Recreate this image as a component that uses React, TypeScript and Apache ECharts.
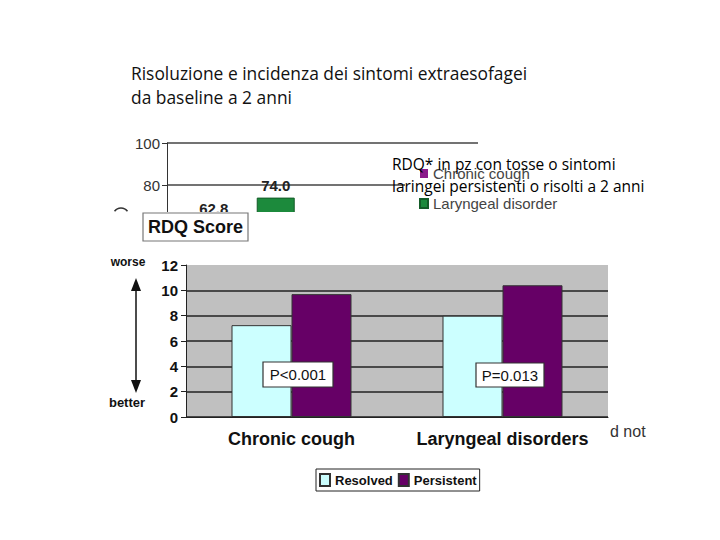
import React, { useEffect, useRef } from 'react';
import * as echarts from 'echarts';

// upper (clipped) chart: RDQ score
const rdqCategories = ['Baseline', '2 anni'];
const rdqChronicCough = [62.8, null];
const rdqLaryngeal = [74.0, null];

// lower chart: RDQ in persistent vs resolved patients
const symptomCategories = ['Chronic cough', 'Laryngeal disorders'];
const resolvedValues = [7.25, 8.0];
const persistentValues = [9.7, 10.4];
const pLabels = ['P<0.001', 'P=0.013'];

const titleLines = [
    'Risoluzione e incidenza dei sintomi extraesofagei',
    'da baseline a 2 anni',
];
const noteLines = [
    'RDQ* in pz con tosse o sintomi',
    'laringei persistenti o risolti a 2 anni',
];

const ARIAL = '"Liberation Sans", Arial, sans-serif';
const CALIBRI = '"Open Sans", "Noto Sans", sans-serif';

const App: React.FC = () => {
    const chartRef = useRef<HTMLDivElement>(null);

    useEffect(() => {
        document.body.style.margin = '0';
        if (!chartRef.current) return;
        const chart = echarts.init(chartRef.current, undefined, { renderer: 'svg' });

        // boxed annotation, as two flat graphic elements
        const boxedText = (x: number, y: number, w: number, h: number, text: string, font: string, stroke: string, z: number) => [
            {
                type: 'rect', z,
                shape: { x, y, width: w, height: h },
                style: { fill: '#fff', stroke, lineWidth: 1.2 },
            },
            {
                type: 'text', z: z + 1,
                x: x + w / 2,
                y: y + h / 2,
                style: { text, font, fill: '#111', align: 'center', verticalAlign: 'middle' },
            },
        ];

        const barLabel = {
            show: true,
            position: 'top' as const,
            fontFamily: ARIAL,
            fontSize: 15,
            fontWeight: 'bold' as const,
            color: '#222',
            formatter: (p: any) => Number(p.value).toFixed(1),
        };

        const option: echarts.EChartsOption = {
            animation: false,
            backgroundColor: '#fff',
            grid: [
                { left: 167, top: 143, width: 311, height: 84 },
                {
                    left: 186, top: 265, width: 422, height: 152,
                    show: true, backgroundColor: '#c0c0c0', borderWidth: 0,
                },
            ],
            xAxis: [
                {
                    gridIndex: 0,
                    type: 'category',
                    data: rdqCategories,
                    axisLine: { lineStyle: { color: '#333' } },
                    axisTick: { show: false },
                    axisLabel: { show: false },
                },
                {
                    gridIndex: 1,
                    type: 'category',
                    data: symptomCategories,
                    axisLine: { lineStyle: { color: '#222', width: 1 } },
                    axisTick: { length: 6, lineStyle: { color: '#222' } },
                    axisLabel: {
                        interval: 0,
                        margin: 13,
                        fontFamily: ARIAL,
                        fontSize: 18,
                        fontWeight: 'bold',
                        color: '#111',
                    },
                },
            ],
            yAxis: [
                {
                    gridIndex: 0,
                    type: 'value',
                    min: 60,
                    max: 100,
                    interval: 20,
                    axisLine: { show: true, lineStyle: { color: '#333' } },
                    axisTick: { show: true, length: 5, lineStyle: { color: '#333' } },
                    axisLabel: { margin: 7, fontFamily: ARIAL, fontSize: 15, color: '#333' },
                    splitLine: { lineStyle: { color: '#444', width: 1.5 } },
                },
                {
                    gridIndex: 1,
                    type: 'value',
                    min: 0,
                    max: 12,
                    interval: 2,
                    axisLine: { show: true, lineStyle: { color: '#222' } },
                    axisTick: { show: true, length: 5, lineStyle: { color: '#222' } },
                    axisLabel: { margin: 8, fontFamily: ARIAL, fontSize: 15, fontWeight: 'bold', color: '#111' },
                    splitLine: { showMaxLine: false, lineStyle: { color: '#222', width: 1.5 } },
                },
            ],
            legend: [
                {
                    data: ['Chronic cough', 'Laryngeal disorder'],
                    orient: 'vertical',
                    left: 405,
                    top: 158,
                    icon: 'rect',
                    itemWidth: 8,
                    itemHeight: 9,
                    itemGap: 15,
                    padding: [8, 40, 4, 14],
                    backgroundColor: '#fff',
                    textStyle: { fontFamily: ARIAL, fontSize: 15, color: '#444' },
                },
                {
                    data: ['Resolved', 'Persistent'],
                    left: 316,
                    top: 469,
                    icon: 'rect',
                    itemWidth: 10,
                    itemHeight: 12,
                    itemGap: 5,
                    padding: [4, 3, 4, 3],
                    borderColor: '#222',
                    borderWidth: 1,
                    textStyle: { fontFamily: ARIAL, fontSize: 13, fontWeight: 'bold', color: '#111' },
                },
            ],
            series: [
                {
                    name: 'Chronic cough',
                    type: 'bar',
                    xAxisIndex: 0,
                    yAxisIndex: 0,
                    data: rdqChronicCough,
                    barWidth: 38,
                    barGap: '63%',
                    itemStyle: { color: '#8b1a8b' },
                    label: barLabel,
                },
                {
                    name: 'Laryngeal disorder',
                    type: 'bar',
                    xAxisIndex: 0,
                    yAxisIndex: 0,
                    data: rdqLaryngeal,
                    barWidth: 38,
                    itemStyle: { color: '#1c8a3c', borderColor: '#145c28', borderWidth: 1 },
                    label: barLabel,
                },
                {
                    name: 'Resolved',
                    type: 'bar',
                    xAxisIndex: 1,
                    yAxisIndex: 1,
                    data: resolvedValues,
                    barWidth: 60,
                    barGap: 0,
                    itemStyle: { color: '#ccffff', borderColor: '#333', borderWidth: 1 },
                },
                {
                    name: 'Persistent',
                    type: 'bar',
                    xAxisIndex: 1,
                    yAxisIndex: 1,
                    data: persistentValues,
                    barWidth: 60,
                    itemStyle: { color: '#660066', borderColor: '#333', borderWidth: 1 },
                },
            ],
            graphic: [
                // white patch hiding the lower part of the top chart
                { type: 'rect', z: 3, shape: { x: 100, y: 212, width: 385, height: 42 }, style: { fill: '#fff' } },
                {
                    type: 'text', z: 10, x: 131, y: 73,
                    style: { text: titleLines[0], font: `17.4px ${CALIBRI}`, fill: '#111', verticalAlign: 'middle' },
                },
                {
                    type: 'text', z: 10, x: 131, y: 97,
                    style: { text: titleLines[1], font: `17.4px ${CALIBRI}`, fill: '#111', verticalAlign: 'middle' },
                },
                {
                    type: 'arc', z: 4,
                    shape: { cx: 121, cy: 216, r: 8, startAngle: Math.PI * 1.2, endAngle: Math.PI * 1.8 },
                    style: { stroke: '#333', lineWidth: 1.5, fill: 'none' },
                },
                ...boxedText(143, 213, 105, 28, 'RDQ Score', `bold 18px ${ARIAL}`, '#777', 6),
                {
                    type: 'text', z: 12, x: 392, y: 164,
                    style: { text: noteLines[0], font: `15.5px ${CALIBRI}`, fill: '#000', verticalAlign: 'middle' },
                },
                {
                    type: 'text', z: 12, x: 392, y: 186,
                    style: { text: noteLines[1], font: `15.5px ${CALIBRI}`, fill: '#000', verticalAlign: 'middle' },
                },
                {
                    type: 'text', z: 10, x: 128, y: 262,
                    style: { text: 'worse', font: `bold 12px ${ARIAL}`, fill: '#111', align: 'center', verticalAlign: 'middle' },
                },
                {
                    type: 'text', z: 10, x: 127, y: 402,
                    style: { text: 'better', font: `bold 13px ${ARIAL}`, fill: '#111', align: 'center', verticalAlign: 'middle' },
                },
                { type: 'line', z: 10, shape: { x1: 136, y1: 286, x2: 136, y2: 386 }, style: { stroke: '#111', lineWidth: 1.5 } },
                { type: 'polygon', z: 10, shape: { points: [[136, 278], [131, 291], [141, 291]] }, style: { fill: '#111' } },
                { type: 'polygon', z: 10, shape: { points: [[136, 393], [131, 380], [141, 380]] }, style: { fill: '#111' } },
                ...boxedText(263, 362, 70, 25, pLabels[0], `15px ${ARIAL}`, '#333', 20),
                ...boxedText(476, 363, 68, 24, pLabels[1], `15px ${ARIAL}`, '#333', 20),
                {
                    type: 'text', z: 10, x: 610, y: 431,
                    style: { text: 'd not', font: `16px ${ARIAL}`, fill: '#333', verticalAlign: 'middle' },
                },
            ] as any,
        };

        chart.setOption(option);

        return () => {
            chart.dispose();
        };
    }, []);

    return <div ref={chartRef} style={{ width: 720, height: 540 }} />;
};

export default App;
